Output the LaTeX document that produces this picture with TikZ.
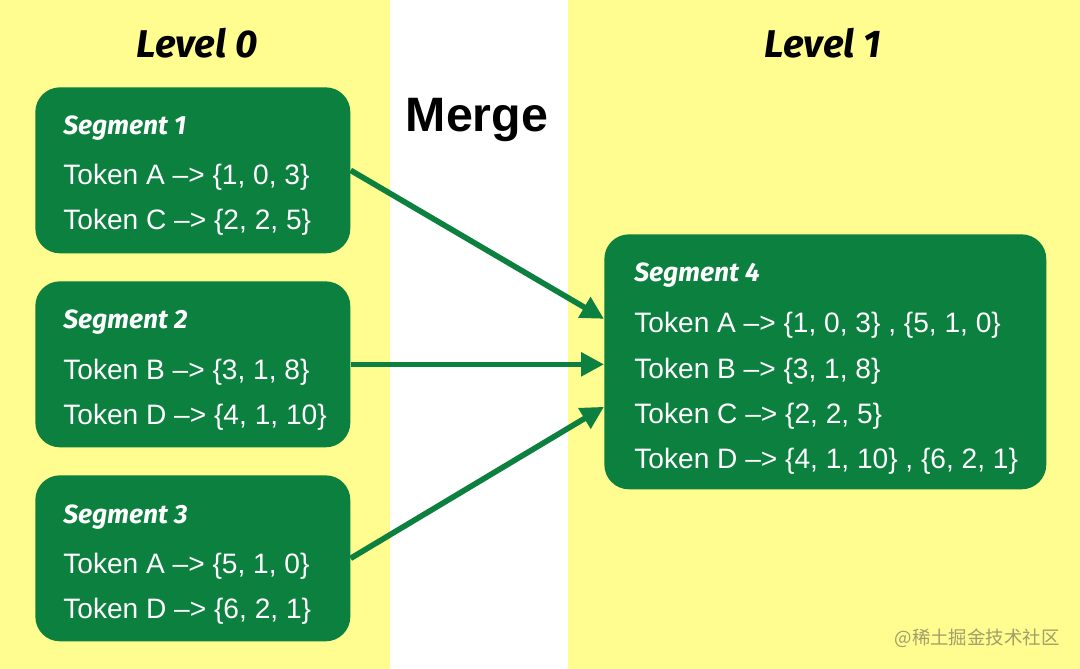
\documentclass[tikz,border=0pt]{standalone}
\usepackage{fontspec}
\setmainfont{Liberation Sans}
\newfontfamily\titlefont{Fira Sans}
\newfontfamily\cjkfont{Noto Sans CJK SC}
\usetikzlibrary{arrows.meta, positioning, calc}
\definecolor{mYellow}{HTML}{FFFD8F}
\definecolor{mGreen}{HTML}{0C803F}
\definecolor{mMark}{HTML}{A19E6A}

\begin{document}
\begin{tikzpicture}[x=0.02cm, y=-0.02cm,
      seg/.style={rectangle, rounded corners=14pt, fill=mGreen, draw=none,
                  anchor=north west, inner sep=0pt},
      head/.style={inner sep=0pt,
                   font=\titlefont\bfseries\itshape\fontsize{22}{26}\selectfont},
      stitle/.style={anchor=base west, inner sep=0pt, text=white,
                     font=\titlefont\bfseries\itshape\fontsize{15}{18}\selectfont},
      tok/.style={anchor=base west, inner sep=0pt, text=white,
                  font=\fontsize{16}{19}\selectfont},
      flow/.style={draw=mGreen, line width=3.2pt,
                   -{Triangle[length=13pt, width=13pt]}}]
    \useasboundingbox (0,0) rectangle (1080,669);

    % two level columns
    \fill[mYellow] (0,0) rectangle (390,669);
    \fill[mYellow] (568,0) rectangle (1080,669);

    \node[head] (lv0) at (197,43) {Level 0};
    \node[head] (lv1) at (823,43) {Level 1};
    \node[inner sep=0pt, font=\bfseries\fontsize{27.5}{30}\selectfont] (merge) at (477,120) {Merge};

    % level 0 segments
    \node[seg, minimum width=6.3cm, minimum height=3.32cm] (s1) at (35,87) {};
    \node[seg, minimum width=6.3cm, minimum height=3.32cm] (s2) at (35,281) {};
    \node[seg, minimum width=6.3cm, minimum height=3.32cm] (s3) at (35,475) {};

    \node[stitle] (s1t) at (63,135) {Segment 1};
    \node[tok] (s1a) at (63,185) {Token A –> \{1, 0, 3\}};
    \node[tok] (s1c) at (63,230) {Token C –> \{2, 2, 5\}};

    \node[stitle] (s2t) at (63,329) {Segment 2};
    \node[tok] (s2b) at (63,379) {Token B –> \{3, 1, 8\}};
    \node[tok] (s2d) at (63,424) {Token D –> \{4, 1, 10\}};

    \node[stitle] (s3t) at (63,523) {Segment 3};
    \node[tok] (s3a) at (63,573) {Token A –> \{5, 1, 0\}};
    \node[tok] (s3d) at (63,618) {Token D –> \{6, 2, 1\}};

    % level 1 segment
    \node[seg, minimum width=8.84cm, minimum height=5.1cm] (s4) at (604,234) {};
    \node[stitle] (s4t) at (634,282) {Segment 4};
    \node[tok] (s4a) at (634,333) {Token A –> \{1, 0, 3\} , \{5, 1, 0\}};
    \node[tok] (s4b) at (634,378) {Token B –> \{3, 1, 8\}};
    \node[tok] (s4c) at (634,423) {Token C –> \{2, 2, 5\}};
    \node[tok] (s4d) at (634,468) {Token D –> \{4, 1, 10\} , \{6, 2, 1\}};

    % merge arrows
    \draw[flow] (s1.east) -- ($(s4.west)+(0,-43)$);
    \draw[flow] (s2.east) -- (s2.east -| s4.west);
    \draw[flow] (s3.east) -- ($(s4.west)+(0,45)$);

    \node[anchor=east, inner sep=0pt, text=mMark, font=\cjkfont\fontsize{10.5}{12}\selectfont] (mark) at (1060,638) {@稀土掘金技术社区};
  \end{tikzpicture}
\end{document}
